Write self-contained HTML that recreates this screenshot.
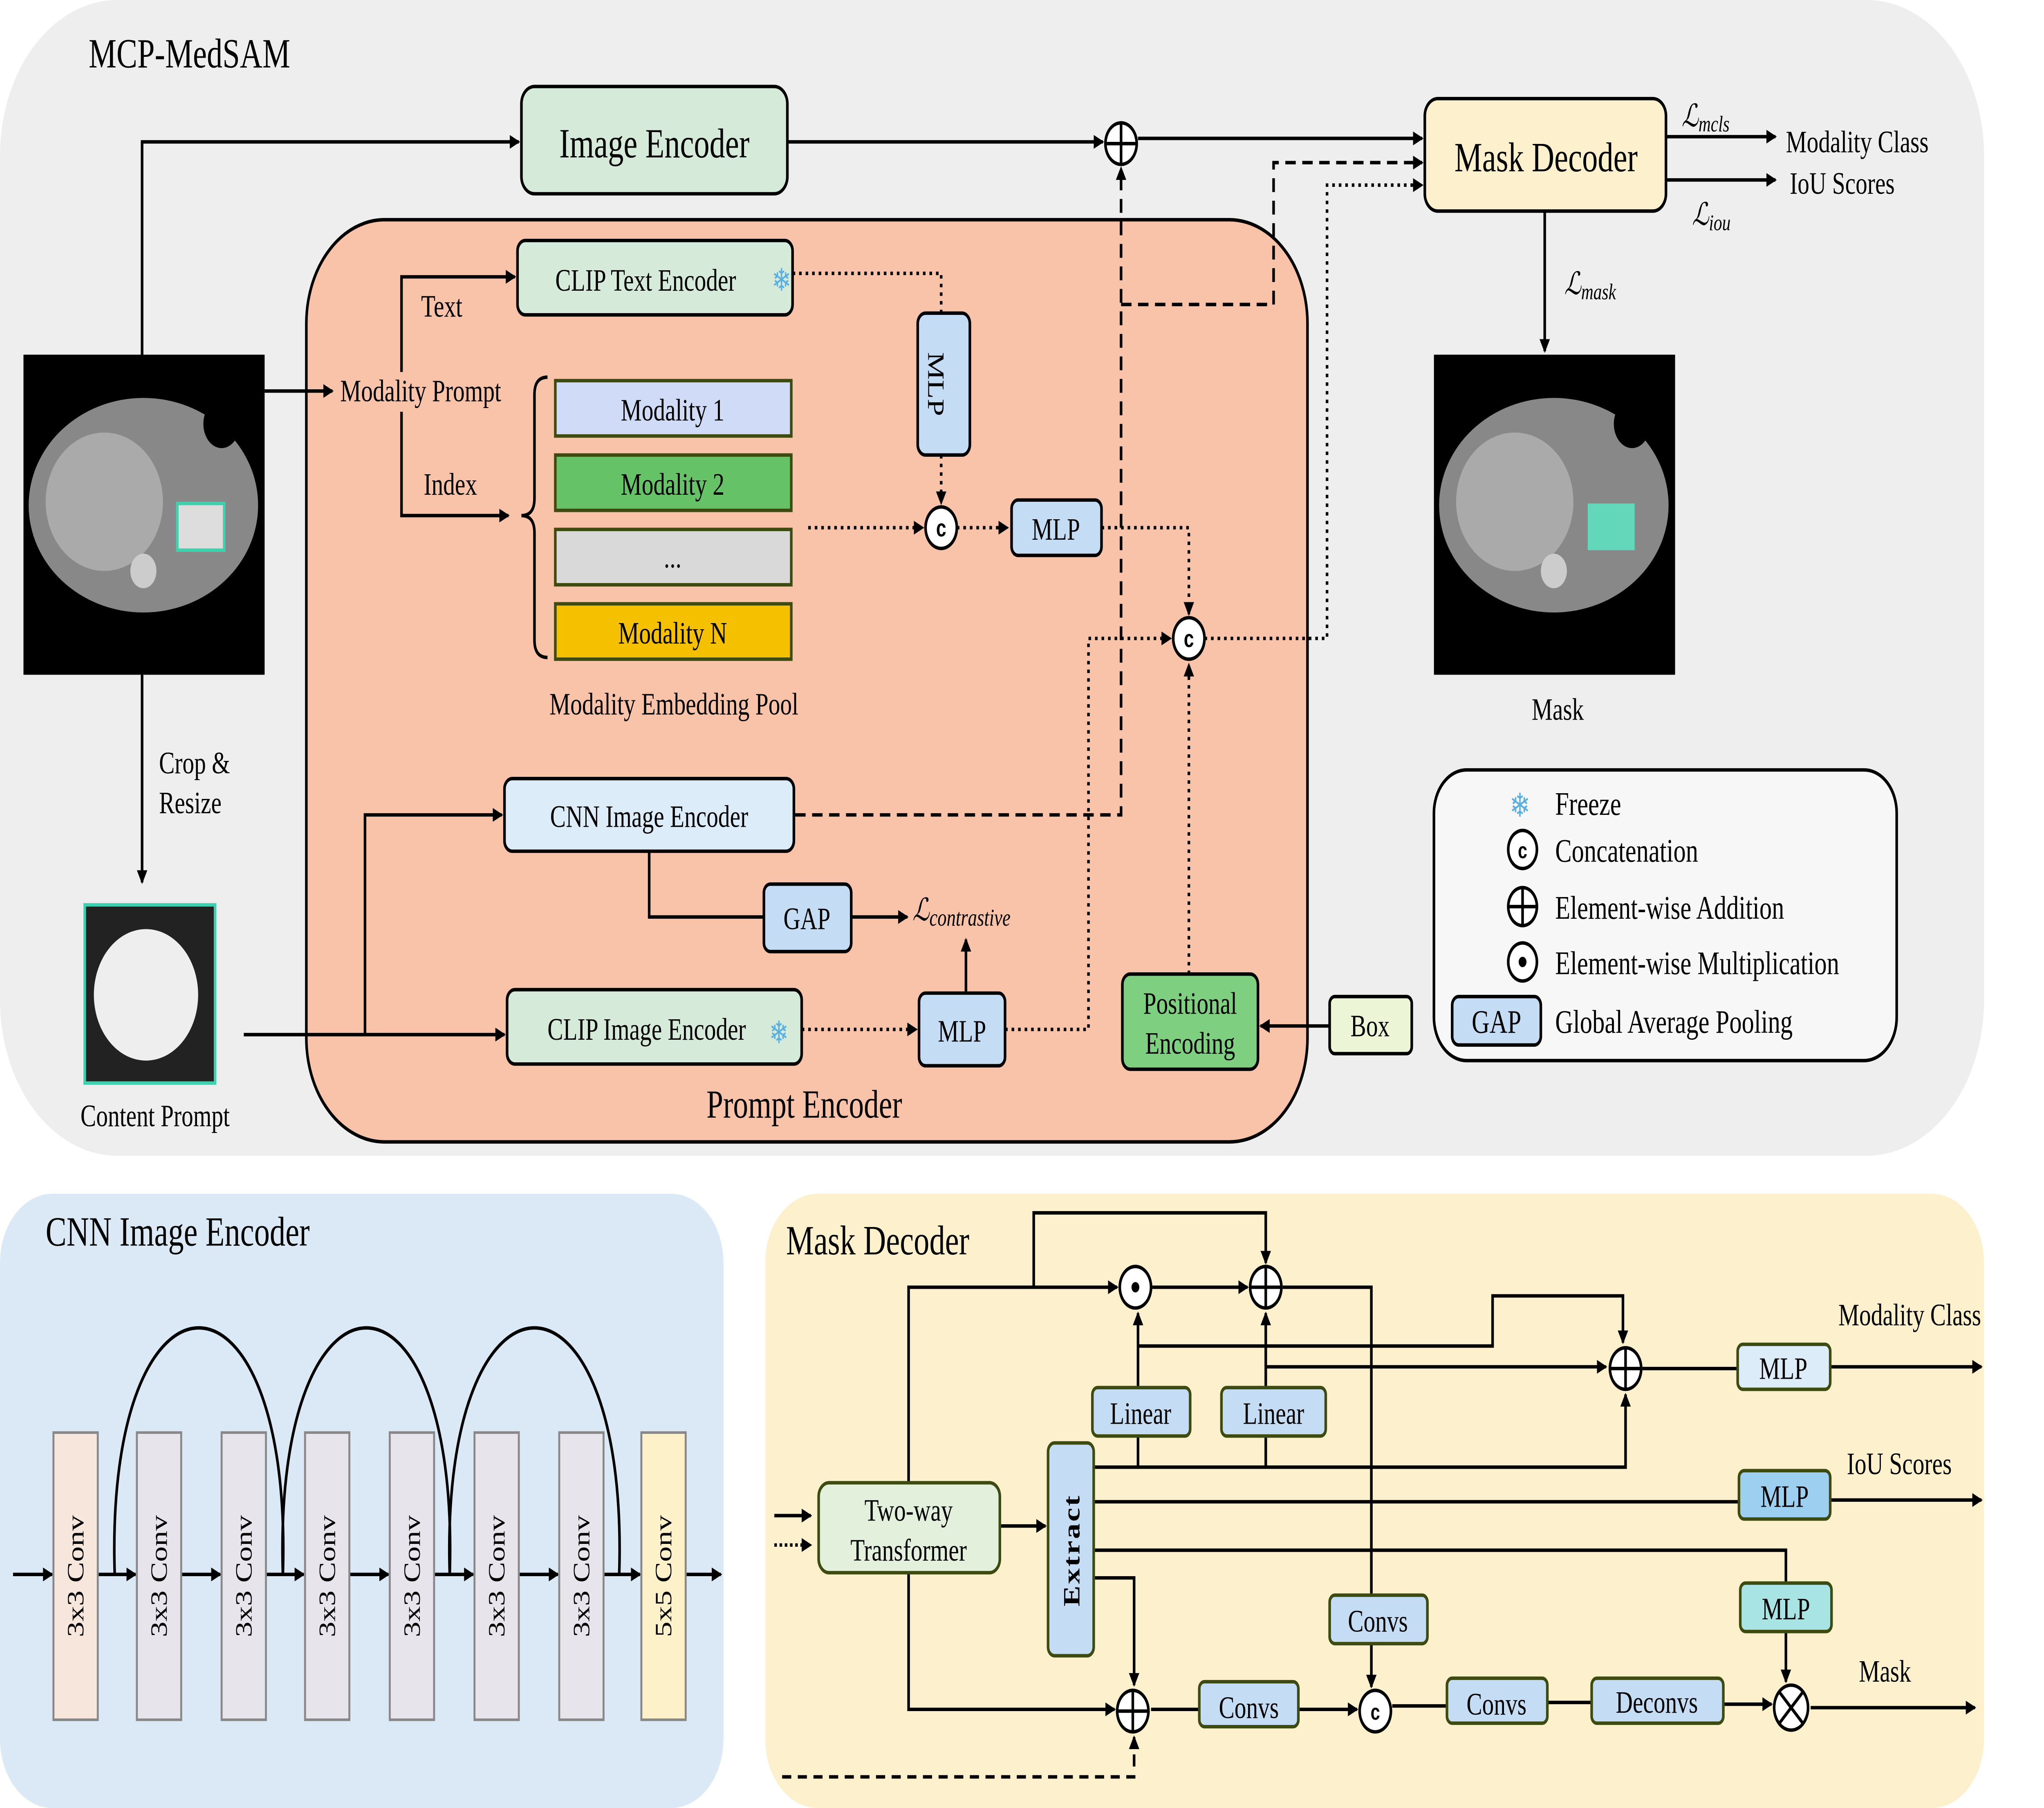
<!DOCTYPE html>
<html><head><meta charset="utf-8"><style>html,body{margin:0;padding:0;background:#fff;width:100%;height:100%;overflow:hidden}svg{display:block;width:100vw;height:100vh}</style></head><body>
<svg viewBox="0 0 1568 1045" preserveAspectRatio="none" xmlns="http://www.w3.org/2000/svg" font-family="Liberation Serif, serif">
<defs>
<marker id="a" markerWidth="8" markerHeight="8" refX="7" refY="4" orient="auto" markerUnits="userSpaceOnUse"><path d="M0,0L8,4L0,8z" fill="#000"/></marker>
</defs>
<rect x="0" y="0" width="1522" height="668" rx="90" fill="#eeeeee"/>
<text x="68" y="39" font-size="24">MCP-MedSAM</text>
<rect x="235" y="127" width="768" height="533" rx="60" fill="#f9c3aa" stroke="#000" stroke-width="2"/>
<text x="617" y="646" font-size="23" text-anchor="middle">Prompt Encoder</text>

<g stroke="#000" stroke-width="2" fill="none">
<polyline points="109,205 109,82 398,82" marker-end="url(#a)"/>
<line x1="604" y1="82" x2="846" y2="82" marker-end="url(#a)"/>
<line x1="873" y1="80" x2="1091" y2="80" marker-end="url(#a)"/>
<line x1="1278" y1="79" x2="1362" y2="79" marker-end="url(#a)"/>
<line x1="1278" y1="104" x2="1362" y2="104" marker-end="url(#a)"/>
<line x1="1185" y1="122" x2="1185" y2="203" marker-end="url(#a)"/>
<line x1="203" y1="226" x2="255" y2="226" marker-end="url(#a)"/>
<polyline points="308,215 308,160 395,160" marker-end="url(#a)"/>
<polyline points="308,238 308,298 390,298" marker-end="url(#a)"/>
<path d="M420,218 Q410,218 410,228 L410,288 Q410,298 400,298 Q410,298 410,308 L410,370 Q410,380 420,380"/>
<polyline points="498,492 498,530 586,530"/>
<line x1="653" y1="530" x2="696" y2="530" marker-end="url(#a)"/>
<line x1="741" y1="573" x2="741" y2="543" marker-end="url(#a)"/>
<line x1="109" y1="390" x2="109" y2="510" marker-end="url(#a)"/>
<line x1="187" y1="598" x2="387" y2="598" marker-end="url(#a)"/>
<polyline points="280,598 280,471 385,471" marker-end="url(#a)"/>
<line x1="1020" y1="593" x2="967" y2="593" marker-end="url(#a)"/>
</g>
<g stroke="#000" stroke-width="2" fill="none" stroke-dasharray="2,3">
<polyline points="608,158 722,158 722,181"/>
<line x1="722" y1="263" x2="722" y2="291" marker-end="url(#a)"/>
<line x1="620" y1="305" x2="708" y2="305" marker-end="url(#a)"/>
<line x1="734" y1="305" x2="773" y2="305" marker-end="url(#a)"/>
<polyline points="845,305 912,305 912,355" marker-end="url(#a)"/>
<polyline points="924,369 1018,369 1018,107 1091,107" marker-end="url(#a)"/>
<line x1="615" y1="595" x2="703" y2="595" marker-end="url(#a)"/>
<polyline points="771,595 835,595 835,369 898,369" marker-end="url(#a)"/>
<line x1="912" y1="563" x2="912" y2="384" marker-end="url(#a)"/>
</g>
<g stroke="#000" stroke-width="2" fill="none" stroke-dasharray="8,5">
<polyline points="610,471 860,471 860,97" marker-end="url(#a)"/>
<polyline points="860,176 977,176 977,94 1091,94" marker-end="url(#a)"/>
</g>

<g stroke="#000" stroke-width="2">
<rect x="400" y="50" width="204" height="62" rx="10" fill="#d5ead8"/>
<rect x="1093" y="57" width="185" height="65" rx="10" fill="#fdf0cc"/>
<rect x="397" y="139" width="211" height="43" rx="6" fill="#d5ead8"/>
<rect x="704" y="181" width="40" height="82" rx="6" fill="#c5dcf5"/>
<rect x="776" y="289" width="69" height="32" rx="5" fill="#c5dcf5"/>
<rect x="387" y="450" width="222" height="42" rx="6" fill="#dcecf9"/>
<rect x="586" y="511" width="67" height="39" rx="5" fill="#c5dcf5"/>
<rect x="389" y="572" width="226" height="43" rx="6" fill="#d5ead8"/>
<rect x="705" y="574" width="66" height="42" rx="5" fill="#c5dcf5"/>
<rect x="861" y="563" width="104" height="55" rx="6" fill="#7fcf80"/>
<rect x="1020" y="576" width="63" height="33" rx="4" fill="#ecf5d6"/>
</g>
<g stroke="#3d4a10" stroke-width="2">
<rect x="426" y="220" width="181" height="32" fill="#d0dcf7"/>
<rect x="426" y="263" width="181" height="32" fill="#66c266"/>
<rect x="426" y="306" width="181" height="32" fill="#d9d9d9"/>
<rect x="426" y="349" width="181" height="32" fill="#f5c000"/>
</g>
<g fill="#fff" stroke="#000" stroke-width="2">
<circle cx="860" cy="83" r="12"/><path d="M848,83H872M860,71V95"/>
<circle cx="722" cy="305" r="12"/>
<circle cx="912" cy="369" r="12"/>
</g>
<g font-size="14" font-weight="bold" text-anchor="middle" font-family="Liberation Sans, sans-serif">
<text x="722" y="310">c</text><text x="912" y="374">c</text>
</g>
<g>
<rect x="18" y="205" width="185" height="185" fill="#000"/>
<ellipse cx="110" cy="292" rx="88" ry="62" fill="#888"/>
<ellipse cx="80" cy="290" rx="45" ry="40" fill="#aaa"/>
<circle cx="170" cy="245" r="14" fill="#000"/>
<rect x="136" y="291" width="36" height="27" fill="#ddd" stroke="#3fd0b0" stroke-width="2"/>
<circle cx="110" cy="330" r="10" fill="#ccc"/>
<rect x="1100" y="205" width="185" height="185" fill="#000"/>
<ellipse cx="1192" cy="292" rx="88" ry="62" fill="#888"/>
<ellipse cx="1162" cy="290" rx="45" ry="40" fill="#aaa"/>
<circle cx="1252" cy="245" r="14" fill="#000"/>
<rect x="1218" y="291" width="36" height="27" fill="#5fe0c0" opacity="0.9"/>
<circle cx="1192" cy="330" r="10" fill="#ccc"/>
<rect x="65" y="523" width="100" height="103" fill="#222" stroke="#3fd0b0" stroke-width="2"/>
<ellipse cx="112" cy="575" rx="40" ry="38" fill="#eee"/>
</g>
<g font-size="18">
<text x="502" y="91" font-size="24" text-anchor="middle">Image Encoder</text>
<text x="1186" y="99" font-size="24" text-anchor="middle">Mask Decoder</text>
<text x="426" y="168">CLIP Text Encoder</text>
<text x="592" y="168" fill="#5aaee0">❄</text>
<text x="712" y="222" transform="rotate(90 712 222)" text-anchor="middle" font-size="18">MLP</text>
<text x="810" y="312" text-anchor="middle">MLP</text>
<text x="261" y="232">Modality Prompt</text>
<text x="323" y="183">Text</text>
<text x="325" y="286">Index</text>
<text x="516" y="243" text-anchor="middle">Modality 1</text>
<text x="516" y="286" text-anchor="middle">Modality 2</text>
<text x="516" y="328" text-anchor="middle">...</text>
<text x="516" y="372" text-anchor="middle">Modality N</text>
<text x="517" y="413" text-anchor="middle">Modality Embedding Pool</text>
<text x="498" y="478" text-anchor="middle">CNN Image Encoder</text>
<text x="619" y="537" text-anchor="middle">GAP</text>
<text x="700" y="532" font-style="italic">ℒ<tspan font-size="14" dy="3">contrastive</tspan></text>
<text x="420" y="601">CLIP Image Encoder</text>
<text x="590" y="603" fill="#5aaee0">❄</text>
<text x="738" y="602" text-anchor="middle">MLP</text>
<text x="913" y="586" text-anchor="middle">Positional</text>
<text x="913" y="609" text-anchor="middle">Encoding</text>
<text x="1051" y="599" text-anchor="middle">Box</text>
<text x="122" y="447">Crop &amp;</text>
<text x="122" y="470">Resize</text>
<text x="119" y="651" text-anchor="middle">Content Prompt</text>
<text x="1195" y="416" text-anchor="middle">Mask</text>
<text x="1370" y="88">Modality Class</text>
<text x="1373" y="112">IoU Scores</text>
<text x="1290" y="73" font-style="italic">ℒ<tspan font-size="13" dy="3">mcls</tspan></text>
<text x="1298" y="130" font-style="italic">ℒ<tspan font-size="13" dy="3">iou</tspan></text>
<text x="1200" y="170" font-style="italic">ℒ<tspan font-size="13" dy="3">mask</tspan></text>
</g>
<rect x="1100" y="445" width="355" height="168" rx="25" fill="#f7f7f7" stroke="#000" stroke-width="2"/>
<g font-size="19">
<text x="1158" y="472" fill="#5aaee0">❄</text><text x="1193" y="471">Freeze</text>
<text x="1193" y="498">Concatenation</text>
<text x="1193" y="531">Element-wise Addition</text>
<text x="1193" y="563">Element-wise Multiplication</text>
<text x="1193" y="597">Global Average Pooling</text>
</g>
<g fill="#fff" stroke="#000" stroke-width="2">
<circle cx="1168" cy="491" r="11"/>
<circle cx="1168" cy="524" r="11"/><path d="M1157,524H1179M1168,513V535"/>
<circle cx="1168" cy="556" r="11"/>
<rect x="1114" y="576" width="68" height="28" rx="5" fill="#c5dcf5"/>
</g>
<circle cx="1168" cy="556" r="3" fill="#000"/>
<text x="1168" y="496" font-size="13" font-weight="bold" text-anchor="middle" font-family="Liberation Sans, sans-serif">c</text>
<text x="1148" y="597" font-size="19" text-anchor="middle">GAP</text>

<rect x="0" y="690" width="555" height="355" rx="40" fill="#dbe9f7"/>
<text x="35" y="720" font-size="24">CNN Image Encoder</text>
<g stroke="#000" stroke-width="2" fill="none">
<line x1="10" y1="910" x2="40" y2="910" marker-end="url(#a)"/>
<line x1="75" y1="910" x2="104" y2="910" marker-end="url(#a)"/>
<line x1="139" y1="910" x2="169" y2="910" marker-end="url(#a)"/>
<line x1="204" y1="910" x2="233" y2="910" marker-end="url(#a)"/>
<line x1="268" y1="910" x2="298" y2="910" marker-end="url(#a)"/>
<line x1="333" y1="910" x2="363" y2="910" marker-end="url(#a)"/>
<line x1="398" y1="910" x2="428" y2="910" marker-end="url(#a)"/>
<line x1="463" y1="910" x2="491" y2="910" marker-end="url(#a)"/>
<line x1="526" y1="910" x2="553" y2="910" marker-end="url(#a)"/>
<path d="M88,910 C80,720 225,720 217,910"/>
<path d="M217,910 C209,720 353,720 345,910"/>
<path d="M345,910 C337,720 483,720 475,910"/>
</g>
<g stroke="#888" stroke-width="1.5">
<rect x="41" y="828" width="34" height="166" fill="#f7e6dc"/>
<rect x="105" y="828" width="34" height="166" fill="#e8e4ec"/>
<rect x="170" y="828" width="34" height="166" fill="#e8e4ec"/>
<rect x="234" y="828" width="34" height="166" fill="#e8e4ec"/>
<rect x="299" y="828" width="34" height="166" fill="#e8e4ec"/>
<rect x="364" y="828" width="34" height="166" fill="#e8e4ec"/>
<rect x="429" y="828" width="34" height="166" fill="#e8e4ec"/>
<rect x="492" y="828" width="34" height="166" fill="#fcf1c9"/>
</g>
<g font-size="18" text-anchor="middle">
<text transform="translate(64,911) rotate(-90)">3x3 Conv</text>
<text transform="translate(128,911) rotate(-90)">3x3 Conv</text>
<text transform="translate(193,911) rotate(-90)">3x3 Conv</text>
<text transform="translate(257,911) rotate(-90)">3x3 Conv</text>
<text transform="translate(322,911) rotate(-90)">3x3 Conv</text>
<text transform="translate(387,911) rotate(-90)">3x3 Conv</text>
<text transform="translate(452,911) rotate(-90)">3x3 Conv</text>
<text transform="translate(515,911) rotate(-90)">5x5 Conv</text>
</g>

<rect x="587" y="690" width="935" height="355" rx="40" fill="#fdf0cd"/>
<text x="603" y="725" font-size="24">Mask Decoder</text>
<g stroke="#000" stroke-width="2" fill="none">
<line x1="594" y1="876" x2="622" y2="876" marker-end="url(#a)"/>
<line x1="594" y1="893" x2="622" y2="893" stroke-dasharray="2,2" marker-end="url(#a)"/>
<polyline points="697,857 697,744 857,744" marker-end="url(#a)"/>
<polyline points="793,744 793,701 971,701 971,730" marker-end="url(#a)"/>
<line x1="884" y1="744" x2="957" y2="744" marker-end="url(#a)"/>
<polyline points="984,744 1052,744 1052,922"/>
<line x1="1052" y1="950" x2="1052" y2="975" marker-end="url(#a)"/>
<line x1="873" y1="802" x2="873" y2="759" marker-end="url(#a)"/>
<line x1="971" y1="802" x2="971" y2="759" marker-end="url(#a)"/>
<polyline points="873,778 1145,778 1145,749 1245,749 1245,776" marker-end="url(#a)"/>
<line x1="971" y1="790" x2="1232" y2="790" marker-end="url(#a)"/>
<polyline points="840,848 1247,848 1247,806" marker-end="url(#a)"/>
<line x1="873" y1="848" x2="873" y2="830"/>
<line x1="971" y1="848" x2="971" y2="830"/>
<line x1="840" y1="868" x2="1334" y2="868"/>
<polyline points="840,896 1370,896 1370,915"/>
<line x1="1370" y1="943" x2="1370" y2="972" marker-end="url(#a)"/>
<polyline points="840,912 870,912 870,974" marker-end="url(#a)"/>
<polyline points="697,909 697,988 855,988" marker-end="url(#a)"/>
<line x1="767" y1="882" x2="802" y2="882" marker-end="url(#a)"/>
<line x1="1260" y1="791" x2="1333" y2="791"/>
<line x1="1404" y1="790" x2="1520" y2="790" marker-end="url(#a)"/>
<line x1="1404" y1="867" x2="1520" y2="867" marker-end="url(#a)"/>
<line x1="883" y1="988" x2="920" y2="988"/>
<line x1="996" y1="988" x2="1041" y2="988" marker-end="url(#a)"/>
<line x1="1068" y1="986" x2="1110" y2="986"/>
<line x1="1187" y1="984" x2="1221" y2="984"/>
<line x1="1322" y1="985" x2="1359" y2="985" marker-end="url(#a)"/>
<line x1="1389" y1="987" x2="1515" y2="987" marker-end="url(#a)"/>
<polyline points="600,1027 870,1027 870,1004" stroke-dasharray="7,5" marker-end="url(#a)"/>
</g>
<g stroke="#3d4a10" stroke-width="2">
<rect x="628" y="857" width="139" height="52" rx="8" fill="#e2f0dc"/>
<rect x="804" y="834" width="35" height="123" rx="5" fill="#c5dcf5"/>
<rect x="838" y="802" width="75" height="28" rx="4" fill="#c5dcf5"/>
<rect x="937" y="802" width="80" height="28" rx="4" fill="#c5dcf5"/>
<rect x="1020" y="922" width="75" height="28" rx="4" fill="#c5dcf5"/>
<rect x="920" y="972" width="76" height="26" rx="4" fill="#c5dcf5"/>
<rect x="1110" y="970" width="77" height="26" rx="4" fill="#c5dcf5"/>
<rect x="1221" y="970" width="101" height="26" rx="4" fill="#c5dcf5"/>
<rect x="1333" y="777" width="71" height="26" rx="4" fill="#dcecf9"/>
<rect x="1334" y="850" width="70" height="28" rx="4" fill="#9ccff0"/>
<rect x="1335" y="915" width="70" height="28" rx="4" fill="#a8e4e4"/>
</g>
<g fill="#fff" stroke="#000" stroke-width="2">
<circle cx="871" cy="744" r="12"/>
<circle cx="971" cy="744" r="12"/><path d="M959,744H983M971,732V756"/>
<circle cx="1247" cy="791" r="12"/><path d="M1235,791H1259M1247,779V803"/>
<circle cx="869" cy="989" r="12"/><path d="M857,989H881M869,977V1001"/>
<circle cx="1055" cy="989" r="12"/>
<circle cx="1374" cy="987" r="13"/><path d="M1365,978L1383,996M1383,978L1365,996"/>
</g>
<circle cx="871" cy="744" r="3" fill="#000"/>
<text x="1055" y="994" font-size="13" font-weight="bold" text-anchor="middle" font-family="Liberation Sans, sans-serif">c</text>
<g font-size="18" text-anchor="middle">
<text x="697" y="879">Two-way</text>
<text x="697" y="902">Transformer</text>
<text transform="translate(828,896) rotate(-90)" font-weight="bold" letter-spacing="1">Extract</text>
<text x="875" y="823">Linear</text>
<text x="977" y="823">Linear</text>
<text x="1057" y="943">Convs</text>
<text x="958" y="993">Convs</text>
<text x="1148" y="991">Convs</text>
<text x="1271" y="990">Deconvs</text>
<text x="1368" y="797">MLP</text>
<text x="1369" y="871">MLP</text>
<text x="1370" y="936">MLP</text>
<text x="1465" y="766">Modality Class</text>
<text x="1457" y="852">IoU Scores</text>
<text x="1446" y="972">Mask</text>
</g>
</svg>
</body></html>
